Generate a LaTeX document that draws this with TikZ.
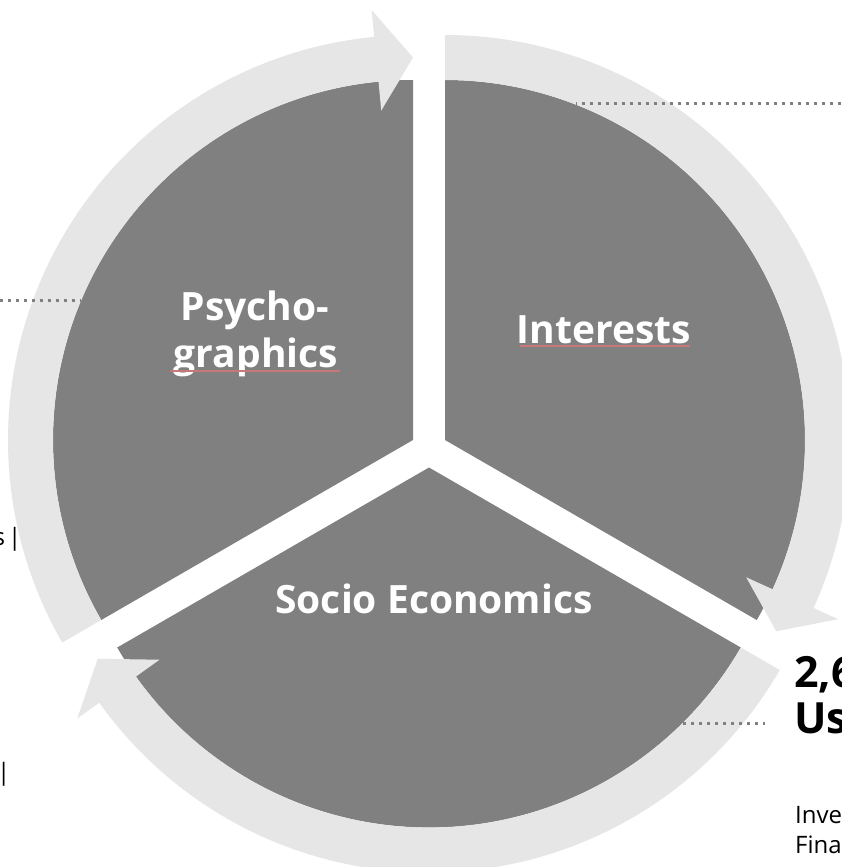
\documentclass[tikz,border=0pt]{standalone}
\usepackage{fontspec}
\setmainfont{Open Sans}
\definecolor{darkseg}{HTML}{808080}
\definecolor{lightring}{HTML}{E6E6E6}
\definecolor{dotgray}{HTML}{808080}
\definecolor{squig}{HTML}{C87878}
\newcommand{\cyclearrow}[3]{%
  \pgfmathsetmacro\cyhb{#3+5.5}%
  \fill[lightring] ([shift={(#2:405pt)}]#1) arc[start angle=#2, end angle=\cyhb, radius=405pt]
    -- ([shift={(\cyhb:432pt)}]#1) -- ([shift={(#3:382.5pt)}]#1) -- ([shift={(\cyhb:331pt)}]#1)
    -- ([shift={(\cyhb:360pt)}]#1) arc[start angle=\cyhb, end angle=#2, radius=360pt] -- cycle;}
\begin{document}
\begin{tikzpicture}[x=1pt,y=1pt,
  seglabel/.style={text=white, font=\fontsize{39}{46}\selectfont\bfseries, inner sep=0pt, anchor=base},
  bigside/.style={text=black, font=\fontsize{43}{46}\selectfont\bfseries, inner sep=0pt, anchor=base west},
  smallside/.style={text=black, font=\fontsize{24}{30}\selectfont, inner sep=0pt},
  dotline/.style={dotgray, line width=3pt, dash pattern=on 3pt off 5pt},
  squigline/.style={squig, line width=1.2pt}]
\useasboundingbox (0,0) rectangle (841,-867);
\fill[white] (0,0) rectangle (841,-867);
% group centres
\coordinate (P) at (413,-440);
\coordinate (I) at (445,-440);
\coordinate (S) at (429,-467.5);
% sectors
\fill[darkseg] (P) -- ([shift={(90:360pt)}]P) arc[start angle=90, end angle=210, radius=360pt] -- cycle;
\fill[darkseg] (I) -- ([shift={(-30:360pt)}]I) arc[start angle=-30, end angle=90, radius=360pt] -- cycle;
\fill[darkseg] (S) -- ([shift={(210:360pt)}]S) arc[start angle=210, end angle=330, radius=360pt] -- cycle;
% circular arrows
\cyclearrow{P}{210}{90}
\cyclearrow{I}{90}{-30}
\cyclearrow{S}{330}{210}
% labels
\node[seglabel] (psy1) at (255,-320) {Psycho-};
\node[seglabel] (psy2) at (256,-367) {graphics};
\node[seglabel] (int) at (604,-343) {Interests};
\node[seglabel] (soc) at (434,-613) {Socio Economics};
\draw[squigline] (170,-371) -- (340,-371);
\draw[squigline] (520,-346) -- (690,-346);
% dotted connectors
\coordinate (d1a) at (0,-300);
\coordinate (d1b) at (81,-300);
\coordinate (d2a) at (576,-103);
\coordinate (d2b) at (841,-103);
\coordinate (d3a) at (683,-723);
\coordinate (d3b) at (765,-723);
\draw[dotline] (d1a) -- (d1b);
\draw[dotline] (d2b) -- (d2a);
\draw[dotline] (d3a) -- (d3b);
% side texts (cut by the page edges)
\node[bigside] (num) at (794,-687) {2,6};
\node[bigside] (usr) at (794,-733) {Us};
\node[smallside, anchor=base west] (inv) at (795,-823) {Inve};
\node[smallside, anchor=base west] (fin) at (795,-853) {Fina};
\node[smallside, anchor=base east] (lt1) at (21.5,-545) {s\hspace{3pt}|};
\node[smallside, anchor=base east] (lt2) at (10.5,-780) {|};
\end{tikzpicture}
\end{document}
